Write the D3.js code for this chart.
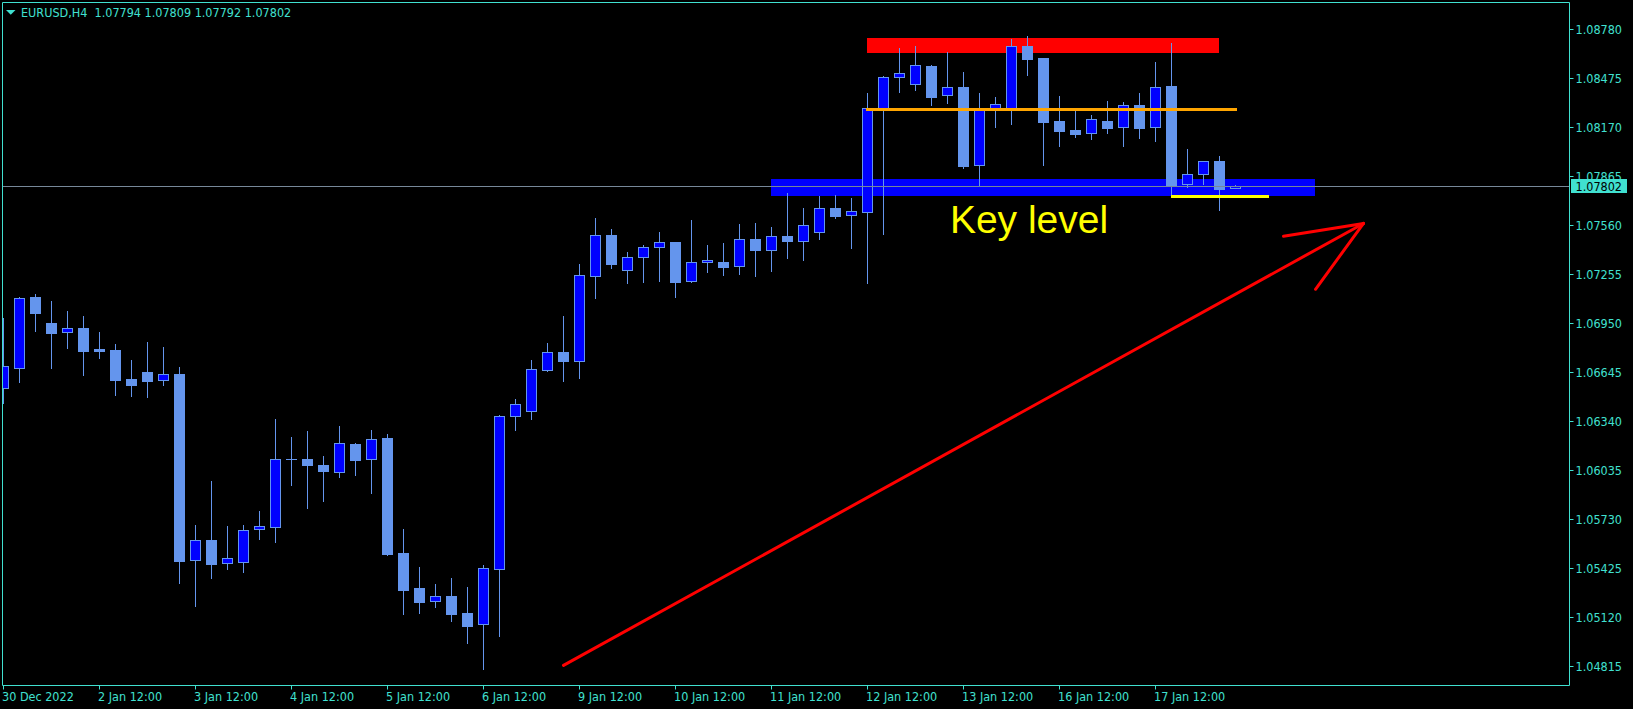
<!DOCTYPE html>
<html><head><meta charset="utf-8">
<script src="https://cdn.jsdelivr.net/npm/d3@7"></script>
<style>html,body{margin:0;padding:0;background:#000;overflow:hidden}</style>
</head><body>
<svg id="c" width="1633" height="709"></svg>
<script>
// ---------- DATA ----------
const symbolTitle = "EURUSD,H4";
const lastOHLC = [1.07794, 1.07809, 1.07792, 1.07802];
const currentPrice = 1.07802;

const times = [
"2022.12.30 12:00","2022.12.30 16:00","2022.12.30 20:00",
"2023.01.02 00:00","2023.01.02 04:00","2023.01.02 08:00","2023.01.02 12:00","2023.01.02 16:00","2023.01.02 20:00",
"2023.01.03 00:00","2023.01.03 04:00","2023.01.03 08:00","2023.01.03 12:00","2023.01.03 16:00","2023.01.03 20:00",
"2023.01.04 00:00","2023.01.04 04:00","2023.01.04 08:00","2023.01.04 12:00","2023.01.04 16:00","2023.01.04 20:00",
"2023.01.05 00:00","2023.01.05 04:00","2023.01.05 08:00","2023.01.05 12:00","2023.01.05 16:00","2023.01.05 20:00",
"2023.01.06 00:00","2023.01.06 04:00","2023.01.06 08:00","2023.01.06 12:00","2023.01.06 16:00","2023.01.06 20:00",
"2023.01.09 00:00","2023.01.09 04:00","2023.01.09 08:00","2023.01.09 12:00","2023.01.09 16:00","2023.01.09 20:00",
"2023.01.10 00:00","2023.01.10 04:00","2023.01.10 08:00","2023.01.10 12:00","2023.01.10 16:00","2023.01.10 20:00",
"2023.01.11 00:00","2023.01.11 04:00","2023.01.11 08:00","2023.01.11 12:00","2023.01.11 16:00","2023.01.11 20:00",
"2023.01.12 00:00","2023.01.12 04:00","2023.01.12 08:00","2023.01.12 12:00","2023.01.12 16:00","2023.01.12 20:00",
"2023.01.13 00:00","2023.01.13 04:00","2023.01.13 08:00","2023.01.13 12:00","2023.01.13 16:00","2023.01.13 20:00",
"2023.01.16 00:00","2023.01.16 04:00","2023.01.16 08:00","2023.01.16 12:00","2023.01.16 16:00","2023.01.16 20:00",
"2023.01.17 00:00","2023.01.17 04:00","2023.01.17 08:00","2023.01.17 12:00","2023.01.17 16:00","2023.01.17 20:00",
"2023.01.18 00:00","2023.01.18 04:00","2023.01.18 08:00"
];

const opens = [1.06544,1.06673,1.07113,1.06951,1.06893,1.06920,1.06789,1.06783,1.06602,1.06646,
1.06594,1.06633,1.05473,1.05600,1.05455,1.05464,1.05666,1.05682,1.06102,1.06104,
1.06067,1.06021,1.06197,1.06102,1.06235,1.05519,1.05301,1.05218,1.05251,1.05145,
1.05075,1.05421,1.06370,1.06401,1.06660,1.06768,1.06716,1.07245,1.07497,1.07279,
1.07360,1.07422,1.07453,1.07211,1.07329,1.07329,1.07304,1.07472,1.07407,1.07493,
1.07460,1.07516,1.07665,1.07621,1.07644,1.08282,1.08481,1.08437,1.08551,1.08369,
1.08420,1.07933,1.08283,1.08283,1.08676,1.08601,1.08209,1.08153,1.08132,1.08209,
1.08169,1.08308,1.08169,1.08426,1.07815,1.07877,1.07958,1.07794];

const highs = [1.06980,1.07111,1.07131,1.07088,1.07026,1.06994,1.06895,1.06820,1.06720,1.06833,
1.06801,1.06677,1.05693,1.05967,1.05687,1.05691,1.05780,1.06353,1.06241,1.06278,
1.06123,1.06309,1.06204,1.06285,1.06260,1.05668,1.05431,1.05326,1.05363,1.05307,
1.05444,1.06378,1.06478,1.06720,1.06826,1.06994,1.07318,1.07605,1.07536,1.07393,
1.07437,1.07518,1.07455,1.07592,1.07437,1.07449,1.07567,1.07574,1.07549,1.07760,
1.07667,1.07742,1.07748,1.07727,1.08383,1.08489,1.08663,1.08676,1.08556,1.08638,
1.08514,1.08383,1.08358,1.08719,1.08738,1.08601,1.08364,1.08277,1.08246,1.08333,
1.08327,1.08383,1.08576,1.08694,1.08034,1.07958,1.07991,1.07809];

const lows = [1.06451,1.06585,1.06903,1.06673,1.06797,1.06629,1.06735,1.06504,1.06498,1.06492,
1.06567,1.05334,1.05190,1.05365,1.05421,1.05402,1.05608,1.05589,1.05944,1.05801,
1.05844,1.05994,1.06006,1.05894,1.05508,1.05141,1.05147,1.05184,1.05097,1.04960,
1.04798,1.05004,1.06286,1.06355,1.06654,1.06592,1.06610,1.07108,1.07295,1.07202,
1.07208,1.07214,1.07115,1.07206,1.07270,1.07252,1.07258,1.07245,1.07277,1.07357,
1.07345,1.07476,1.07607,1.07420,1.07202,1.07507,1.08391,1.08404,1.08310,1.08323,
1.07918,1.07806,1.08173,1.08192,1.08497,1.07934,1.08055,1.08111,1.08098,1.08136,
1.08055,1.08105,1.08086,1.07744,1.07796,1.07818,1.07656,1.07792];

const closes = [1.06681,1.07105,1.07015,1.06890,1.06918,1.06778,1.06778,1.06598,1.06567,1.06592,
1.06631,1.05471,1.05598,1.05452,1.05486,1.05660,1.05685,1.06102,1.06101,1.06068,
1.06031,1.06202,1.06100,1.06227,1.05514,1.05290,1.05215,1.05249,1.05141,1.05066,
1.05423,1.06370,1.06445,1.06663,1.06768,1.06716,1.07248,1.07497,1.07320,1.07360,
1.07422,1.07453,1.07208,1.07329,1.07341,1.07301,1.07472,1.07407,1.07491,1.07463,
1.07559,1.07665,1.07619,1.07646,1.08288,1.08481,1.08506,1.08556,1.08360,1.08419,
1.07930,1.08288,1.08313,1.08674,1.08597,1.08204,1.08148,1.08130,1.08221,1.08167,
1.08306,1.08167,1.08419,1.07812,1.07877,1.07958,1.07787,1.07802];

const tickTimes = ["2022.12.30 12:00","2023.01.02 12:00","2023.01.03 12:00","2023.01.04 12:00",
"2023.01.05 12:00","2023.01.06 12:00","2023.01.09 12:00","2023.01.10 12:00","2023.01.11 12:00",
"2023.01.12 12:00","2023.01.13 12:00","2023.01.16 12:00","2023.01.17 12:00"];
const tickLabels = ["30 Dec 2022","2 Jan 12:00","3 Jan 12:00","4 Jan 12:00","5 Jan 12:00",
"6 Jan 12:00","9 Jan 12:00","10 Jan 12:00","11 Jan 12:00","12 Jan 12:00","13 Jan 12:00",
"16 Jan 12:00","17 Jan 12:00"];
const priceTicks = [1.08780,1.08475,1.08170,1.07865,1.07560,1.07255,1.06950,1.06645,
1.06340,1.06035,1.05730,1.05425,1.05120,1.04815];

// annotations (bar index, price)
const resistanceZone = [54, 76, 1.08726, 1.08634];
const keyZone = [48, 82, 1.07848, 1.07744];
const orangeLevel = [54, 77, 1.08283];
const yellowLevel = [73, 79, 1.07740];
const keyLabel = ["Key level", 59.15, 1.07511];
const arrowShaft = [[35, 1.04819], [85, 1.07571]];
const arrowBarbs = [[80, 1.07491], [82, 1.07161]];

// ---------- DRAW ----------
const TQ = "#40E0D0", BULL = "#0000FF", LINE = "#6495ED";
const FONT = "'DejaVu Sans Condensed','DejaVu Sans',sans-serif";
const svg = d3.select("#c");
svg.append("rect").attr("width",1633).attr("height",709).attr("fill","#000");

const x = d3.scaleLinear().domain([0, 97]).range([3.5, 3.5 + 16 * 97]);
const y = d3.scaleLinear().domain([1.04815, 1.08780]).range([666, 29.3]);

svg.append("defs").append("clipPath").attr("id","clip")
  .append("rect").attr("x",3).attr("y",3).attr("width",1566).attr("height",682);
const plot = svg.append("g").attr("clip-path","url(#clip)");

const ry = v => Math.round(y(v));

// background objects
const gBg = plot.append("g").attr("shape-rendering","crispEdges");
gBg.append("rect")
  .attr("x", x(resistanceZone[0]) - 0.5).attr("width", x(resistanceZone[1]) - x(resistanceZone[0]))
  .attr("y", ry(resistanceZone[2])).attr("height", ry(resistanceZone[3]) - ry(resistanceZone[2]))
  .attr("fill","#FF0000");
gBg.append("rect")
  .attr("x", x(keyZone[0]) - 0.5).attr("width", x(keyZone[1]) - x(keyZone[0]))
  .attr("y", ry(keyZone[2])).attr("height", ry(keyZone[3]) - ry(keyZone[2]))
  .attr("fill","#0000FF");

// candles
const candles = times.map((t,i)=>({i, o:opens[i], h:highs[i], l:lows[i], c:closes[i]}));
const gC = plot.append("g").attr("shape-rendering","crispEdges");
gC.selectAll("rect.wick").data(candles).join("rect").attr("class","wick")
  .attr("x", d => Math.floor(x(d.i))).attr("width", 1)
  .attr("y", d => ry(d.h))
  .attr("height", d => Math.max(1, ry(d.l) - ry(d.h) + 1))
  .attr("fill", LINE);
gC.selectAll("rect.body").data(candles).join("rect").attr("class","body")
  .each(function(d){
    const bull = d.c >= d.o;
    const top = ry(Math.max(d.o,d.c)), bot = ry(Math.min(d.o,d.c));
    const cx = Math.floor(x(d.i)) + 0.5;
    const s = d3.select(this);
    if (bull) {
      s.attr("x", cx - 5).attr("y", top + 0.5).attr("width", 10)
       .attr("height", Math.max(1, bot - top)).attr("fill", BULL)
       .attr("stroke", LINE).attr("stroke-width", 1);
    } else {
      s.attr("x", cx - 5.5).attr("y", top).attr("width", 11)
       .attr("height", Math.max(1, bot - top + 1)).attr("fill", LINE);
    }
  });

// foreground objects
const gF = plot.append("g");
gF.append("line")
  .attr("x1", x(orangeLevel[0]) - 1.5).attr("x2", x(orangeLevel[1]) + 1)
  .attr("y1", y(orangeLevel[2])).attr("y2", y(orangeLevel[2]))
  .attr("stroke","#FFA500").attr("stroke-width",3).attr("shape-rendering","crispEdges");
gF.append("line")
  .attr("x1", x(yellowLevel[0]) - 1).attr("x2", x(yellowLevel[1]) + 1)
  .attr("y1", y(yellowLevel[2])).attr("y2", y(yellowLevel[2]))
  .attr("stroke","#FFFF00").attr("stroke-width",3).attr("shape-rendering","crispEdges");
gF.append("line")
  .attr("x1", 2).attr("x2", 1569)
  .attr("y1", Math.round(y(currentPrice)) + 0.5).attr("y2", Math.round(y(currentPrice)) + 0.5)
  .attr("stroke","#778899").attr("stroke-width",1);
gF.append("text")
  .attr("x", x(keyLabel[1])).attr("y", y(keyLabel[2]))
  .attr("font-family","'Liberation Sans',Arial,sans-serif").attr("font-size",39)
  .attr("fill","#FFFF00").text(keyLabel[0]);
const tip = arrowShaft[1];
const gA = gF.append("g").attr("stroke","#FF0000").attr("stroke-width",3)
  .attr("stroke-linecap","round");
gA.append("line").attr("x1", x(arrowShaft[0][0])).attr("y1", y(arrowShaft[0][1]))
  .attr("x2", x(tip[0])).attr("y2", y(tip[1]));
arrowBarbs.forEach(b => {
  gA.append("line").attr("x1", x(b[0])).attr("y1", y(b[1]))
    .attr("x2", x(tip[0])).attr("y2", y(tip[1]));
});

// axes
const yAxis = d3.axisRight(y).tickValues(priceTicks).tickSize(4).tickPadding(2)
  .tickFormat(d3.format(".5f"));
const gy = svg.append("g").attr("transform","translate(1569.5,0)").call(yAxis);
gy.select(".domain").remove();
gy.selectAll(".tick").attr("transform", d => `translate(0,${Math.round(y(d)) + 0.5})`);
gy.selectAll(".tick line").attr("stroke", TQ);
gy.selectAll(".tick text").attr("fill", TQ).attr("font-family", FONT).attr("font-size", 12.5);

const xAxis = d3.axisBottom(x).tickValues(tickTimes.map(t => times.indexOf(t)))
  .tickSize(4).tickPadding(3).tickFormat((d,i) => tickLabels[i]);
const gx = svg.append("g").attr("transform","translate(0,685.5)").call(xAxis);
gx.select(".domain").remove();
gx.selectAll(".tick").attr("transform", d => `translate(${Math.floor(x(d)) + 0.5},0)`);
gx.selectAll(".tick line").attr("stroke", TQ);
gx.selectAll(".tick text").attr("fill", TQ).attr("font-family", FONT).attr("font-size", 12.5)
  .attr("text-anchor","start").attr("x", -1.5);

// border
svg.append("path").attr("d","M2.5,2.5H1569.5V685.5H2.5Z").attr("fill","none")
  .attr("stroke", TQ).attr("stroke-width",1);

// current price label
const cpY = Math.round(y(currentPrice)) + 0.5;
svg.append("rect").attr("x",1571).attr("y",cpY - 7.5).attr("width",56).attr("height",14).attr("fill",TQ);
svg.append("text").attr("x",1575.5).attr("y",cpY).attr("dy","0.32em")
  .attr("font-family",FONT).attr("font-size",12.5).attr("fill","#000")
  .text(d3.format(".5f")(currentPrice));

// header
svg.append("path").attr("d","M6,10H15.5L10.75,14.8Z").attr("fill",TQ);
svg.append("text").attr("x",21).attr("y",17.3).attr("font-family",FONT).attr("font-size",12.5)
  .attr("fill",TQ).attr("xml:space","preserve").style("white-space","pre")
  .text(symbolTitle + "  " + lastOHLC.map(d3.format(".5f")).join(" "));
</script>
</body></html>
